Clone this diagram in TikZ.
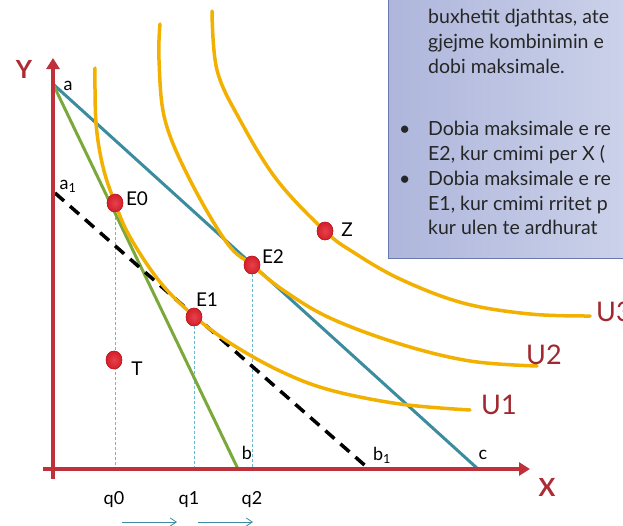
\documentclass[tikz,border=0pt]{standalone}
\usepackage{fontspec}
\setmainfont{Lato}
\usetikzlibrary{arrows.meta,shapes.geometric}
\definecolor{axisred}{HTML}{C0303A}
\definecolor{ulabel}{HTML}{A0282E}
\definecolor{budteal}{HTML}{3A8C9E}
\definecolor{budgreen}{HTML}{7BA83A}
\definecolor{icurve}{HTML}{F2B000}
\definecolor{dotred}{HTML}{E0202C}
\definecolor{guide}{HTML}{6BB8D0}
\definecolor{boxleft}{HTML}{AEB6DC}
\definecolor{boxright}{HTML}{CDD3EA}
\definecolor{boxline}{HTML}{6A78AE}
\tikzset{
  axisline/.style={draw=axisred,line width=3.5pt},
  budget/.style={line width=3pt},
  icline/.style={draw=icurve,line width=3.5pt,line cap=round},
  guideline/.style={draw=guide,line width=0.9pt,dash pattern=on 3pt off 2pt},
  dotnode/.style={ellipse,minimum width=16pt,minimum height=18pt,inner sep=0pt,
    inner color=dotred!85!white,outer color=dotred!95!black,draw=dotred!80!black,line width=0.4pt},
  lbl/.style={font=\fontsize{19}{22}\selectfont,inner sep=0pt},
  smalllbl/.style={font=\fontsize{18}{21}\selectfont,inner sep=0pt},
  ulbl/.style={font=\fontsize{27}{30}\selectfont,text=ulabel,inner sep=0pt},
  axlbl/.style={font=\fontsize{25}{28}\selectfont\bfseries,text=axisred!90!black,inner sep=0pt},
  boxtext/.style={font=\fontsize{19.5}{23}\selectfont,anchor=base west,inner sep=0pt,text=black!85},
  qarrow/.style={draw=budteal,line width=0.8pt,-{Straight Barb[length=6pt,width=8pt]}}
}
\begin{document}
\begin{tikzpicture}[x=1pt,y=-1pt]
\useasboundingbox (0,0) rectangle (623,525);
\begin{scope}
\clip (0,0) rectangle (623,525);
\fill[white] (0,0) rectangle (623,525);
% text box
\shade[left color=boxleft,right color=boxright] (388,-10) rectangle (640,258);
\draw[boxline,line width=1pt] (640,258) -- (388,258) -- (388,-10);
\node[boxtext] (t1) at (428,23) {buxhetit djathtas, ate};
\node[boxtext] (t2) at (428,48) {gjejme kombinimin e};
\node[boxtext] (t3) at (428,73) {dobi maksimale.};
\node[boxtext] (b1) at (399,135) {•};
\node[boxtext] (t4) at (428,135) {Dobia maksimale e re};
\node[boxtext] (t5) at (428,160) {E2, kur cmimi per X (};
\node[boxtext] (b2) at (399,185) {•};
\node[boxtext] (t6) at (428,185) {Dobia maksimale e re};
\node[boxtext] (t7) at (428,210) {E1, kur cmimi rritet p};
\node[boxtext] (t8) at (428,234) {kur ulen te ardhurat};

% key points
\coordinate (O) at (53,469);
\coordinate (ytop) at (53,58);
\coordinate (ybot) at (53,479);
\coordinate (xleft) at (43,469);
\coordinate (xright) at (530,469);
\coordinate (a) at (53,84);
\coordinate (a1) at (55,193);
\coordinate (b) at (238,469);
\coordinate (b1) at (369,469);
\coordinate (c) at (478,469);

% guides
\node[dotnode] (E0) at (115,203) {};
\node[dotnode] (E1) at (194,317) {};
\node[dotnode] (E2) at (252,265) {};
\node[dotnode] (Z) at (325,231) {};
\node[dotnode] (T) at (114,360) {};
\draw[guideline] (E0.south) -- (E0.south |- O);
\draw[guideline] (E1.south) -- (E1.south |- O);
\draw[guideline] (E2.south) -- (E2.south |- O);

% budget lines
\draw[budget,draw=budteal] (a) -- (c);
\draw[budget,draw=budgreen] (a) -- (b);
\draw[draw=black,line width=3.5pt,dash pattern=on 12pt off 8pt] (a1) -- (b1);

% indifference curves
\draw[icline] plot[smooth,tension=0.6] coordinates {(95,68) (96,123) (103,167) (115,203) (130,237) (160,282) (194,316) (230,343) (280,371) (330,390) (400,404) (470,410)};
\draw[icline] plot[smooth,tension=0.6] coordinates {(160,24) (159,60) (165,120) (190,180) (227,243) (252,265) (283,290) (330,318) (400,344) (470,361) (537,366)};
\draw[icline] plot[smooth,tension=0.6] coordinates {(212,11) (217,70) (240,120) (277,180) (325,231) (353,252) (400,279) (463,303) (530,314) (590,316)};

% redraw dots on top
\node[dotnode] at (E0) {};
\node[dotnode] at (E1) {};
\node[dotnode] at (E2) {};
\node[dotnode] at (Z) {};
\node[dotnode] at (T) {};

% axes
\draw[axisline,-{Triangle[length=11pt,width=13pt]}] (ybot) -- (ytop);
\draw[axisline,-{Triangle[length=11pt,width=13pt]}] (xleft) -- (xright);
\node[axlbl] (Ylbl) at (24,69) {Y};
\node[axlbl] (Xlbl) at (547,487) {X};

% labels
\node[smalllbl] (alab) at (68,86) {a};
\node[smalllbl] (a1lab) at (68,186) {a\textsubscript{1}};
\node[smalllbl] (blab) at (247,453) {b};
\node[smalllbl] (b1lab) at (382,455) {b\textsubscript{1}};
\node[smalllbl] (clab) at (483,455) {c};
\node[lbl] (E0lab) at (137,199) {E0};
\node[lbl] (E1lab) at (207,300) {E1};
\node[lbl] (E2lab) at (273,257) {E2};
\node[lbl] (Zlab) at (347,230) {Z};
\node[lbl] (Tlab) at (137,369) {T};
\node[smalllbl] (q0) at (114,500) {q0};
\node[smalllbl] (q1) at (189,500) {q1};
\node[smalllbl] (q2) at (252,500) {q2};
\coordinate (arr1s) at (122,522);
\coordinate (arr1e) at (177,522);
\coordinate (arr2s) at (198,522);
\coordinate (arr2e) at (253,522);
\draw[qarrow] (arr1s) -- (arr1e);
\draw[qarrow] (arr2s) -- (arr2e);
\node[ulbl,anchor=west] (U1) at (481,405) {U1};
\node[ulbl,anchor=west] (U2) at (526,355) {U2};
\node[ulbl,anchor=west] (U3) at (596,312) {U3};
\end{scope}
\end{tikzpicture}
\end{document}
